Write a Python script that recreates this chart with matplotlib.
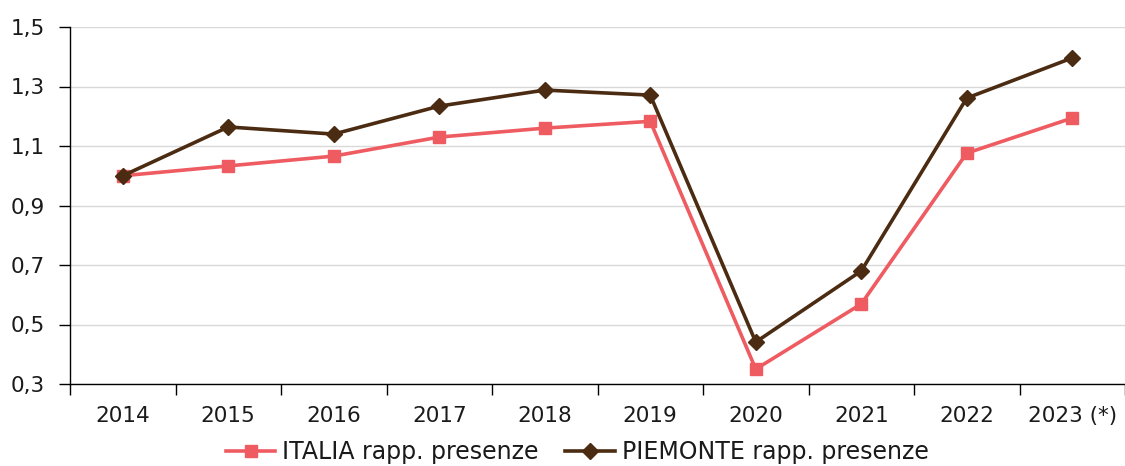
import matplotlib
matplotlib.use("Agg")
import matplotlib.pyplot as plt
from matplotlib.ticker import FuncFormatter

years = ["2014", "2015", "2016", "2017", "2018", "2019", "2020", "2021", "2022", "2023 (*)"]
italia = [1.00, 1.033, 1.066, 1.130, 1.160, 1.183, 0.350, 0.569, 1.076, 1.194]
piemonte = [1.00, 1.164, 1.140, 1.234, 1.288, 1.271, 0.441, 0.680, 1.261, 1.396]
yticks = [0.3, 0.5, 0.7, 0.9, 1.1, 1.3, 1.5]

plt.rcParams['font.family'] = ['DejaVu Sans']

fig = plt.figure(figsize=(11.25, 4.66), dpi=100)
ax = fig.add_axes([70/1125, 1-384/466, 1-70/1125, (384-27)/466])

x = list(range(len(years)))
ax.plot(x, italia, color="#EE5C62", lw=2.6, marker="s", ms=9, label="ITALIA rapp. presenze", zorder=3)
ax.plot(x, piemonte, color="#4B2C12", lw=2.6, marker="D", ms=8.5, label="PIEMONTE rapp. presenze", zorder=4)

ax.set_xlim(-0.5, len(years)-0.5)
ax.set_ylim(0.3, 1.5)
ax.set_yticks(yticks)
ax.yaxis.set_major_formatter(FuncFormatter(lambda v, p: f"{v:.1f}".replace(".", ",")))
ax.set_xticks([i + 0.5 for i in range(-1, len(years))])
ax.set_xticklabels([])
ax.set_xticks(x, minor=True)
ax.set_xticklabels(years, minor=True)
ax.tick_params(axis="x", which="minor", length=0, pad=16, labelsize=15.5, colors="#1a1a1a")
ax.tick_params(axis="x", which="major", length=8, width=1, direction="out")
ax.tick_params(axis="y", length=8, width=1, labelsize=15.5, pad=10, labelcolor="#1a1a1a")
ax.grid(axis="y", color="#D9D9D9", lw=1)
ax.set_axisbelow(True)
for s in ["top", "right"]:
    ax.spines[s].set_visible(False)
ax.spines["left"].set_linewidth(1)
ax.spines["bottom"].set_linewidth(1)

fig.legend(loc="lower center", bbox_to_anchor=(0.513, -0.042), ncol=2, frameon=False,
           fontsize=17, handlelength=2.1, columnspacing=1.1, handletextpad=0.3,
           labelcolor="#1a1a1a")

fig.savefig("out.png", dpi=100)
